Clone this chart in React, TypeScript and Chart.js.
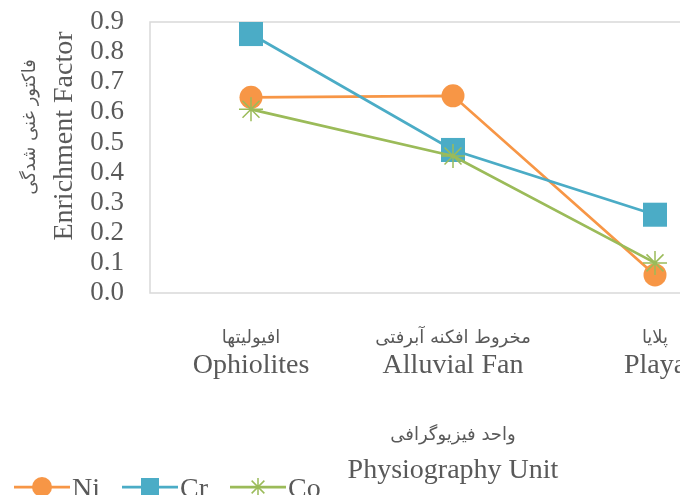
import React, { useEffect, useRef } from "react";
import { Chart, registerables } from "chart.js";

Chart.register(...registerables);

const categoriesEn = ["Ophiolites", "Alluvial Fan", "Playa"];
const categoriesFa = ["افیولیتها", "مخروط افکنه آبرفتی", "پلایا"];
const niValues = [0.65, 0.655, 0.06];
const crValues = [0.86, 0.475, 0.26];
const coValues = [0.61, 0.455, 0.1];
const yTicks = [0, 0.1, 0.2, 0.3, 0.4, 0.5, 0.6, 0.7, 0.8, 0.9];
const yTitleEn = "Enrichment Factor";
const yTitleFa = "فاکتور غنی شدگی";
const xTitleEn = "Physiography Unit";
const xTitleFa = "واحد فیزیوگرافی";

const TEXT = "#595959";
const SERIF = '"Liberation Serif", "Times New Roman", serif';
const FA = '"DejaVu Sans", sans-serif';
const CW = 780;
const CH = 510;
const LW = 2.75;

const annotate = {
  id: "annotate",
  beforeDatasetsDraw(chart: any) {
    const { ctx, chartArea: a } = chart;
    ctx.save();
    ctx.strokeStyle = "#d9d9d9";
    ctx.lineWidth = 1.5;
    ctx.strokeRect(a.left, a.top, a.right - a.left, a.bottom - a.top);
    ctx.restore();
  },
  afterDraw(chart: any) {
    const { ctx, chartArea: a } = chart;
    const xs = chart.scales.x;
    ctx.save();
    ctx.fillStyle = TEXT;
    ctx.textAlign = "center";
    categoriesEn.forEach((lab, i) => {
      const px = xs.getPixelForValue(i);
      ctx.font = "18px " + FA;
      ctx.textBaseline = "middle";
      ctx.fillText(categoriesFa[i], px, a.bottom + 45);
      ctx.font = "28px " + SERIF;
      ctx.textBaseline = "alphabetic";
      ctx.fillText(lab, px, a.bottom + 80);
    });
    const cx = (a.left + a.right) / 2;
    ctx.font = "18px " + FA;
    ctx.textBaseline = "middle";
    ctx.fillText(xTitleFa, cx, a.bottom + 142);
    ctx.font = "28px " + SERIF;
    ctx.textBaseline = "alphabetic";
    ctx.fillText(xTitleEn, cx, a.bottom + 185);

    // y title
    ctx.save();
    ctx.translate(72, a.top + 114);
    ctx.rotate(-Math.PI / 2);
    ctx.font = "28px " + SERIF;
    ctx.textBaseline = "alphabetic";
    ctx.fillText(yTitleEn, 0, 0);
    ctx.restore();
    ctx.save();
    ctx.translate(30, a.top + 105);
    ctx.rotate(-Math.PI / 2);
    ctx.font = "18px " + FA;
    ctx.textBaseline = "middle";
    ctx.fillText(yTitleFa, 0, 0);
    ctx.restore();

    // legend
    let x = 14;
    const ly = 487;
    chart.data.datasets.forEach((ds: any) => {
      ctx.strokeStyle = ds.borderColor;
      ctx.lineWidth = LW;
      ctx.beginPath();
      ctx.moveTo(x, ly);
      ctx.lineTo(x + 56, ly);
      ctx.stroke();
      const mx = x + 28;
      ctx.fillStyle = ds.pointBackgroundColor;
      ctx.strokeStyle = ds.pointBorderColor;
      if (ds.pointStyle === "circle") {
        ctx.beginPath();
        ctx.arc(mx, ly, 10, 0, Math.PI * 2);
        ctx.fill();
      } else if (ds.pointStyle === "rect") {
        ctx.fillRect(mx - 9, ly - 9, 18, 18);
      } else {
        ctx.lineWidth = 1.5;
        ctx.beginPath();
        for (let k = 0; k < 4; k++) {
          const ang = (k * Math.PI) / 4;
          ctx.moveTo(mx - Math.cos(ang) * 9, ly - Math.sin(ang) * 9);
          ctx.lineTo(mx + Math.cos(ang) * 9, ly + Math.sin(ang) * 9);
        }
        ctx.stroke();
      }
      ctx.fillStyle = TEXT;
      ctx.font = "28px " + SERIF;
      ctx.textAlign = "left";
      ctx.textBaseline = "alphabetic";
      ctx.fillText(ds.label, x + 58, ly + 10);
      x = x + 58 + ctx.measureText(ds.label).width + 22;
    });
    ctx.restore();
  },
};

export default function App() {
  const ref = useRef<HTMLCanvasElement | null>(null);
  useEffect(() => {
    if (!ref.current) return;
    const chart = new Chart(ref.current, {
      type: "line",
      data: {
        labels: categoriesEn,
        datasets: [
          {
            label: "Ni",
            data: niValues,
            borderColor: "#F79646",
            backgroundColor: "#F79646",
            pointBackgroundColor: "#F79646",
            pointBorderColor: "#F79646",
            pointStyle: "circle",
            pointRadius: 11.5,
            pointBorderWidth: 0,
            borderWidth: LW,
            order: 3,
          },
          {
            label: "Cr",
            data: crValues,
            borderColor: "#4BACC6",
            backgroundColor: "#4BACC6",
            pointBackgroundColor: "#4BACC6",
            pointBorderColor: "#4BACC6",
            pointStyle: "rect",
            pointRadius: 17,
            pointBorderWidth: 0,
            borderWidth: LW,
            order: 2,
          },
          {
            label: "Co",
            data: coValues,
            borderColor: "#9BBB59",
            backgroundColor: "#9BBB59",
            pointBackgroundColor: "#9BBB59",
            pointBorderColor: "#9BBB59",
            pointStyle: "star",
            pointRadius: 12,
            pointBorderWidth: 1.5,
            borderWidth: LW,
            order: 1,
          },
        ] as any,
      },
      options: {
        animation: false,
        responsive: false,
        devicePixelRatio: 1,
        layout: { padding: { top: 22, right: 24, left: 0, bottom: 0 } },
        plugins: { legend: { display: false }, tooltip: { enabled: false } },
        scales: {
          x: {
            type: "category",
            offset: true,
            grid: { display: false, drawTicks: false },
            border: { display: false },
            ticks: { display: false },
            afterFit: (s: any) => {
              s.height = CH - 293;
              s.paddingLeft = 0;
              s.paddingRight = 0;
            },
          },
          y: {
            min: 0,
            max: 0.9,
            grid: { display: false, drawTicks: false },
            border: { display: false },
            afterBuildTicks: (s: any) => {
              s.ticks = yTicks.map((v) => ({ value: v }));
            },
            ticks: {
              autoSkip: false,
              callback: (v: any) => Number(v).toFixed(1),
              font: { family: SERIF, size: 27 },
              color: TEXT,
              padding: 26,
            },
            afterFit: (s: any) => {
              s.width = 150;
              s.paddingTop = 0;
              s.paddingBottom = 0;
            },
          },
        },
      },
      plugins: [annotate],
    });
    return () => chart.destroy();
  }, []);
  return (
    <div
      style={{
        position: "fixed",
        left: 0,
        top: 0,
        width: 680,
        height: 495,
        overflow: "hidden",
        background: "#fff",
      }}
    >
      <canvas ref={ref} width={CW} height={CH} style={{ display: "block", width: CW, height: CH }} />
    </div>
  );
}
